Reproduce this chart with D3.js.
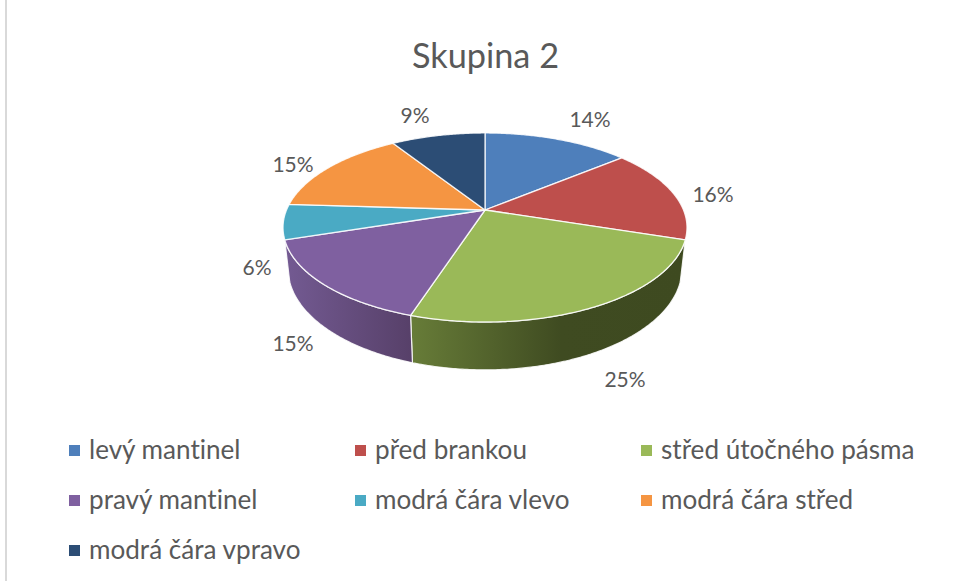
<!DOCTYPE html>
<html><head><meta charset="utf-8">
<script src="https://cdnjs.cloudflare.com/ajax/libs/d3/7.8.5/d3.min.js"></script>
<style>html,body{margin:0;padding:0;background:#fff}svg{display:block}text{font-family:Lato,"Open Sans",sans-serif;fill:#595959;font-variant-ligatures:none}</style>
</head><body><svg id="c" width="955" height="581"></svg>
<script>
const title = "Skupina 2";
const categories = ["levý mantinel","před brankou","střed útočného pásma","pravý mantinel","modrá čára vlevo","modrá čára střed","modrá čára vpravo"];
const shares = [14,16,25,15,6,15,9];
const colors = ["#4e7fbb","#be4f4c","#9ab958","#7f60a0","#4aaac4","#f59542","#2c4d75"];

const W=955,H=581, cx=485, cy=210;
const svg=d3.select("#c").attr("viewBox",[0,0,W,H]);
svg.append("rect").attr("x",5).attr("y",0).attr("width",2).attr("height",H).attr("fill","#d9d9d9");

// perspective projection of the unit disc
const k=0.185, a=91.3, b=198.5;
const top3=(t)=>{const X=Math.sin(t),Y=-Math.cos(t),d=1-k*Y;return [b*X/d,a*Y/d];};
const topP=t=>{const p=top3(t);return [cx+p[0],cy+p[1]];};
const botP=t=>{const p=top3(t);return [cx+p[0]*0.975,cy+p[1]*1.07+40];};
const arcs=d3.pie().sort(null).value(d=>d)(shares);
const line=d3.line();
const samples=(s,e)=>{const n=Math.max(2,Math.ceil((e-s)/0.01));return d3.range(n+1).map(i=>s+(e-s)*i/n);};

const defs=svg.append("defs");
function grad(id,x1,x2,stops){const g=defs.append("linearGradient").attr("id",id).attr("gradientUnits","userSpaceOnUse").attr("x1",x1).attr("x2",x2).attr("y1",0).attr("y2",0);
 stops.forEach(s=>g.append("stop").attr("offset",s[0]).attr("stop-color",s[1]));}
grad("sideG",412,684,[[0,"#677c38"],[0.55,"#3f4b21"],[1,"#3e4a20"]]);
grad("sideP",286,412,[[0,"#735a92"],[1,"#574069"]]);
const sideFill={2:"url(#sideG)",3:"url(#sideP)"};

// extruded rim for front-facing slices
arcs.forEach((d,i)=>{ if(!sideFill[i])return;
  const ts=samples(d.startAngle,d.endAngle);
  const pts=ts.map(topP).concat(ts.slice().reverse().map(botP));
  svg.append("path").attr("d",line(pts)+"Z").attr("fill",sideFill[i]).attr("stroke","#fff").attr("stroke-opacity",.85).attr("stroke-width",1.2).attr("stroke-linejoin","round");
});
// top faces
arcs.forEach((d,i)=>{
  const pts=[[cx,cy]].concat(samples(d.startAngle,d.endAngle).map(topP));
  svg.append("path").attr("d",line(pts)+"Z").attr("fill",colors[i]).attr("stroke","#fff").attr("stroke-opacity",.85).attr("stroke-width",1.3).attr("stroke-linejoin","round");
});

// labels
const labelAnchors=[[590,118],[713,193],[625,378],[293,342],[257,266],[293,163],[415,114]];
svg.append("g").selectAll("text").data(shares).join("text")
  .attr("x",(d,i)=>labelAnchors[i][0]).attr("y",(d,i)=>labelAnchors[i][1])
  .attr("text-anchor","middle").attr("dominant-baseline","central")
  .attr("font-size",21).text(d=>d+"%");

svg.append("text").attr("x",485.5).attr("y",68).attr("text-anchor","middle").attr("font-size",34.3).text(title);

// legend
const col=d3.scalePoint().domain([0,1,2]).range([69,641]);
const row=d3.scalePoint().domain([0,1,2]).range([450,550]);
const lg=svg.append("g").selectAll("g").data(categories).join("g")
  .attr("transform",(d,i)=>`translate(${col(i%3)},${row(Math.floor(i/3))})`);
lg.append("rect").attr("x",0).attr("y",-5).attr("width",11).attr("height",11).attr("fill",(d,i)=>colors[i]);
lg.append("text").attr("x",20).attr("y",9).attr("font-size",26.1).text(d=>d);
</script></body></html>
